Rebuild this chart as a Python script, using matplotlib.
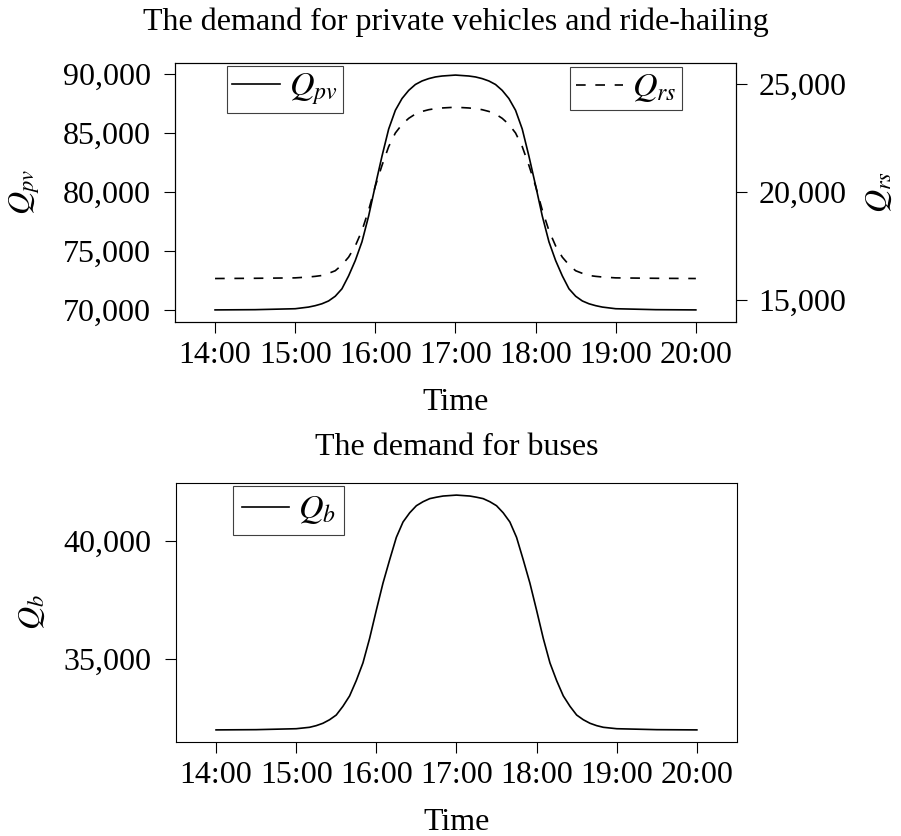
import matplotlib

matplotlib.use("Agg")
import matplotlib.pyplot as plt
import numpy as np
from matplotlib.ticker import FuncFormatter

plt.rcParams["font.family"] = ["Liberation Serif", "DejaVu Serif"]
plt.rcParams["mathtext.fontset"] = "stix"
plt.rcParams["font.size"] = 23

# --- data --------------------------------------------------------------------
# sample times, minutes after 14:00
minutes = [0, 30, 60, 70, 75, 80, 85, 90, 95, 100, 105, 110, 115, 120, 125,
           130, 135, 140, 145, 150, 155, 160, 165, 170, 180,
           190, 195, 200, 205, 210, 215, 220, 225, 230, 235, 240, 245, 250,
           255, 260, 265, 270, 275, 280, 285, 290, 300, 330, 360]

q_pv = [70000, 70020, 70100, 70240, 70360, 70520, 70760, 71160, 71790, 72890,
        74190, 75780, 77970, 80560, 83050, 85350, 86940, 87940, 88630, 89130,
        89430, 89630, 89770, 89850, 89930,
        89850, 89770, 89630, 89430, 89130, 88630, 87940, 86940, 85350, 83050,
        80560, 77970, 75780, 74190, 72890, 71790, 71160, 70760, 70520, 70360,
        70240, 70100, 70020, 70000]

q_rs = [16000, 16010, 16030, 16070, 16100, 16140, 16240, 16360, 16630, 16990,
        17510, 18220, 19170, 20280, 21240, 22110, 22740, 23140, 23420, 23620,
        23740, 23820, 23870, 23900, 23935,
        23900, 23870, 23820, 23740, 23620, 23420, 23140, 22740, 22110, 21240,
        20280, 19170, 18220, 17510, 16990, 16630, 16360, 16240, 16140, 16100,
        16070, 16030, 16010, 16000]

q_b = [32000, 32010, 32050, 32110, 32180, 32280, 32430, 32630, 33000, 33440,
       34090, 34840, 35880, 37070, 38220, 39210, 40160, 40810, 41200, 41500,
       41670, 41800, 41860, 41910, 41950,
       41910, 41860, 41800, 41670, 41500, 41200, 40810, 40160, 39210, 38220,
       37070, 35880, 34840, 34090, 33440, 33000, 32630, 32430, 32280, 32180,
       32110, 32050, 32010, 32000]

hour_ticks = [14, 15, 16, 17, 18, 19, 20]
hour_labels = ["14:00", "15:00", "16:00", "17:00", "18:00", "19:00", "20:00"]
pv_ticks = [70000, 75000, 80000, 85000, 90000]
rs_ticks = [15000, 20000, 25000]
b_ticks = [35000, 40000]

t = 14 + np.array(minutes) / 60.0
thousands = FuncFormatter(lambda v, _: f"{v:,.0f}")
DASH = (0, (5.8, 5.8))


def style_axis(ax, pad=9.5):
    ax.tick_params(axis="both", direction="out", length=8, width=0.8)
    ax.tick_params(axis="x", pad=6)
    ax.tick_params(axis="y", pad=pad)
    for sp in ax.spines.values():
        sp.set_linewidth(0.8)


def add_legend(ax, x, y, loc, bpad=0.25):
    leg = ax.legend(loc=loc, bbox_to_anchor=(x, y), borderaxespad=0,
                    fancybox=False, framealpha=1, edgecolor="0.25",
                    handlelength=1.4, handletextpad=0.25, borderpad=bpad,
                    prop={"size": 24.5})
    leg.get_frame().set_linewidth(0.8)
    return leg


fig = plt.figure(figsize=(9.01, 8.36), dpi=100)

# --- top: private vehicles + ride-hailing -----------------------------------
ax = fig.add_axes([0.1942, 0.6152, 0.6226, 0.3091])
ax.plot(t, q_pv, color="k", lw=1.2, label=r"$Q_{pv}$")
ax.set_xlim(13.5, 20.5)
ax.set_ylim(69000, 90930)
ax.set_xticks(hour_ticks, hour_labels)
ax.set_yticks(pv_ticks)
ax.yaxis.set_major_formatter(thousands)
ax.set_xlabel("Time")
ax.set_ylabel(r"$Q_{pv}$")
ax.xaxis.set_label_coords(0.5, -0.255)
ax.yaxis.set_label_coords(-0.237, 0.5)
ax.set_title("The demand for private vehicles and ride-hailing", pad=24,
             fontsize=23)
style_axis(ax)
add_legend(ax, 0.0922, 0.9896, "upper left", bpad=0.17)

ax2 = ax.twinx()
ax2.plot(t, q_rs, color="k", lw=1.2, linestyle=DASH, label=r"$Q_{rs}$")
ax2.set_ylim(14000, 25970)
ax2.set_yticks(rs_ticks)
ax2.yaxis.set_major_formatter(thousands)
ax2.set_ylabel(r"$Q_{rs}$")
ax2.yaxis.set_label_coords(1.23, 0.5)
style_axis(ax2, pad=8.4)
add_legend(ax2, 0.9043, 0.987, "upper right", bpad=0.17)

# --- bottom: buses ------------------------------------------------------------
axb = fig.add_axes([0.1953, 0.1128, 0.6226, 0.3091])
axb.plot(t, q_b, color="k", lw=1.2, label=r"$Q_b$")
axb.set_xlim(13.5, 20.5)
axb.set_ylim(31500, 42450)
axb.set_xticks(hour_ticks, hour_labels)
axb.set_yticks(b_ticks)
axb.yaxis.set_major_formatter(thousands)
axb.set_xlabel("Time")
axb.set_ylabel(r"$Q_b$")
axb.xaxis.set_label_coords(0.5, -0.255)
axb.yaxis.set_label_coords(-0.23, 0.5)
axb.set_title("The demand for buses", pad=20.5, fontsize=23)
style_axis(axb)
add_legend(axb, 0.102, 0.9896, "upper left")

fig.savefig("out.png", dpi=100)
